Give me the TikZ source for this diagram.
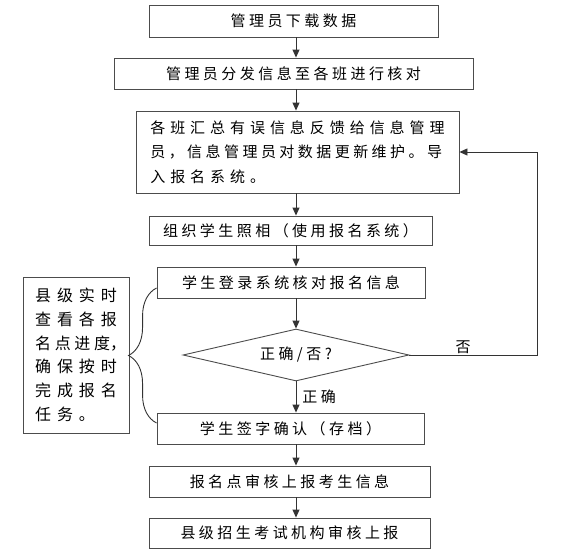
\documentclass[tikz,border=0pt]{standalone}
\usepackage{fontspec}
\setmainfont{Noto Sans CJK SC}
\newfontfamily\cjk[LetterSpace=23]{Noto Sans CJK SC}
\newfontfamily\cjkwide[LetterSpace=33]{Noto Sans CJK SC}
\newfontfamily\cjkside[LetterSpace=37]{Noto Sans CJK SC}
\usetikzlibrary{shapes.geometric,arrows.meta,decorations.pathreplacing}

\begin{document}
\begin{tikzpicture}[x=1pt,y=-1pt,
    font=\fontsize{15}{24.5}\selectfont\cjk,
    line width=0.9pt,
    >={Triangle[length=8pt,width=7pt]},
    stepbox/.style={draw=black!70, inner sep=0pt, minimum height=31pt},
    checkbox/.style={draw=black!70, diamond, aspect=4.3, inner sep=0pt,
      minimum width=226pt, minimum height=52pt},
    flow/.style={->, draw=black!80}]
    \useasboundingbox (0,0) rectangle (574,554);
    % main column
    \node[stepbox, minimum width=289pt, minimum height=32pt] (dl) at (293.5,21) {管理员下载数据};
    \node[stepbox, minimum width=359pt] (send) at (293.5,73.5) {管理员分发信息至各班进行核对};
    \node[stepbox, minimum width=323pt, minimum height=82pt, align=left] (fix) at (297.5,152)
      {{\cjkwide 各班汇总有误信息反馈给信息管理}\\员，信息管理员对数据更新维护。导\\{\cjkwide 入报名系统。}};
    \node[stepbox, minimum width=283pt, minimum height=29pt] (photo) at (290.5,230.5) {组织学生照相（使用报名系统）};
    \node[stepbox, minimum width=268pt] (login) at (291,282.5) {学生登录系统核对报名信息};
    \node[checkbox] (chk) at (296,355) {正确/否?};
    \node[stepbox, minimum width=267pt] (sign) at (290.5,428.5) {学生签字确认（存档）};
    \node[stepbox, minimum width=281pt] (site) at (289.5,481.5) {报名点审核上报考生信息};
    \node[stepbox, minimum width=281pt, minimum height=30pt] (county) at (289.5,533) {县级招生考试机构审核上报};
    % side note
    \node[stepbox, minimum width=106pt, minimum height=156pt, align=left,
      font=\fontsize{16}{23.7}\selectfont\cjkside] (watch) at (76,355)
      {县级实时\\查看各报\\{\cjk 名点进度}\rlap{，}\\确保按时\\完成报名\\任务。};
    % arrows
    \draw[flow] (dl.south -| chk) -- (send.north -| chk);
    \draw[flow] (send.south -| chk) -- (fix.north -| chk);
    \draw[flow] (fix.south -| chk) -- (photo.north -| chk);
    \draw[flow] (photo.south -| chk) -- (login.north -| chk);
    \draw[flow] (login.south -| chk) -- (chk.north);
    \draw[flow] (chk.south) -- node[right, inner sep=6pt] {正确} (sign.north -| chk);
    \draw[flow] (sign.south -| chk) -- (site.north -| chk);
    \draw[flow] (site.south -| chk) -- (county.north -| chk);
    \draw[flow] (chk.east) -- node[above, inner sep=1pt, pos=0.42] {否} ++(128,0) |- (fix.east);
    % brace
    \draw[draw=black!80, decorate, decoration={brace, amplitude=28pt}]
      ([yshift=5.5pt]sign.west) -- ([yshift=-5.5pt]login.west);
\end{tikzpicture}
\end{document}
